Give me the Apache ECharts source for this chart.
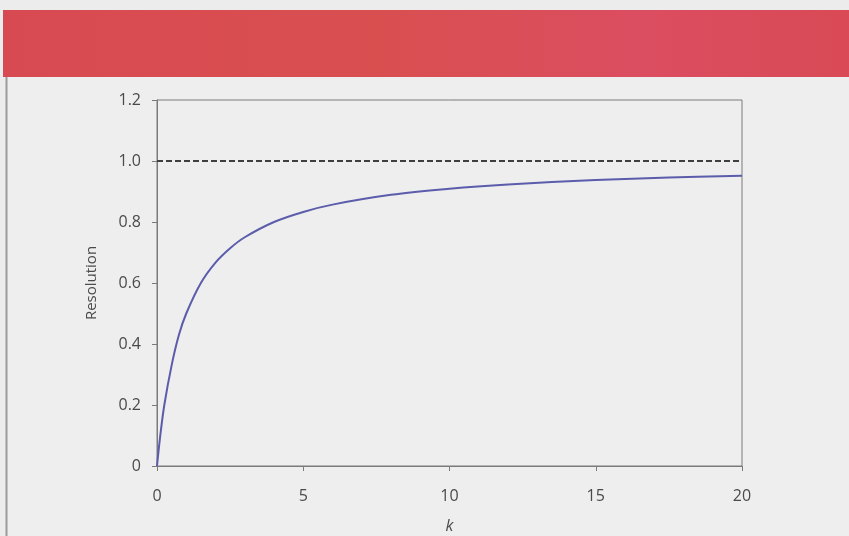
<!DOCTYPE html>
<html>
<head>
<meta charset="utf-8">
<script src="https://cdn.jsdelivr.net/npm/echarts@6/dist/echarts.min.js"></script>
<style>
  html, body { margin: 0; padding: 0; background: #ececec; }
  #chart { width: 849px; height: 536px; }
</style>
</head>
<body>
<div id="chart"></div>
<script>
// Resolution as a function of k
const kValues = [0, 0.1, 0.25, 0.5, 0.75, 1, 1.5, 2, 2.5, 3, 4, 5, 6, 8, 10, 12, 15, 17.5, 20];
const resolution = [0, 0.09, 0.2, 0.33, 0.43, 0.5, 0.6, 0.667, 0.714, 0.75, 0.8, 0.833, 0.857, 0.889, 0.909, 0.923, 0.9375, 0.946, 0.952];
const limitValue = 1.0;
const xTicks = [0, 5, 10, 15, 20];
const yTicks = [0, 0.2, 0.4, 0.6, 0.8, 1.0, 1.2];

const chart = echarts.init(document.getElementById('chart'), null, { renderer: 'canvas' });
const font = '"Open Sans", "DejaVu Sans", sans-serif';

chart.setOption({
  backgroundColor: '#ececec',
  animation: false,
  graphic: [
    {
      type: 'rect',
      shape: { x: 3, y: 10, width: 846, height: 67 },
      style: {
        fill: {
          type: 'linear', x: 0, y: 0, x2: 1, y2: 0,
          colorStops: [
            { offset: 0, color: '#d84a52' },
            { offset: 0.45, color: '#d94f50' },
            { offset: 0.75, color: '#db4d60' },
            { offset: 1, color: '#d94a56' }
          ]
        }
      },
      silent: true
    },
    {
      type: 'rect',
      shape: { x: 6, y: 77, width: 843, height: 459 },
      style: { fill: '#eeeeee' },
      silent: true,
      z: -1
    },
    {
      type: 'line',
      shape: { x1: 6.5, y1: 77, x2: 6.5, y2: 536 },
      style: { stroke: '#9a9a9a', lineWidth: 2 },
      silent: true
    }
  ],
  grid: {
    left: 157, right: 107, top: 100, bottom: 70,
    outerBoundsMode: 'none',
    containLabel: false,
    show: true, borderColor: '#7a7a7a', borderWidth: 1,
    backgroundColor: 'transparent'
  },
  xAxis: {
    type: 'value',
    min: 0, max: 20, interval: 5,
    name: 'k',
    nameLocation: 'middle',
    nameGap: 52,
    nameTextStyle: { fontFamily: font, fontSize: 16, fontStyle: 'italic', color: '#4a4a4a' },
    axisLine: { show: true, lineStyle: { color: '#7a7a7a', width: 1 } },
    axisTick: { show: true, inside: false, length: 5, lineStyle: { color: '#7a7a7a' } },
    axisLabel: {
      fontFamily: font, fontSize: 16, color: '#4a4a4a', margin: 22,
      customValues: xTicks
    },
    splitLine: { show: false }
  },
  yAxis: {
    type: 'value',
    min: 0, max: 1.2, interval: 0.2,
    name: 'Resolution',
    nameLocation: 'middle',
    nameGap: 58,
    nameRotate: 90,
    nameTextStyle: { fontFamily: font, fontSize: 15, color: '#4a4a4a' },
    axisLine: { show: true, lineStyle: { color: '#7a7a7a', width: 1 } },
    axisTick: { show: true, inside: false, length: 5, lineStyle: { color: '#7a7a7a' } },
    axisLabel: {
      fontFamily: font, fontSize: 16, color: '#4a4a4a', margin: 16,
      customValues: yTicks,
      formatter: v => (v === 0 ? '0' : v.toFixed(1))
    },
    splitLine: { show: false }
  },
  series: [
    {
      type: 'line',
      data: [[0, limitValue], [20, limitValue]],
      symbol: 'none',
      lineStyle: { color: '#3f3f3f', width: 2, type: [6, 3] },
      z: 2
    },
    {
      type: 'line',
      data: kValues.map((k, i) => [k, resolution[i]]),
      smooth: 0.35,
      symbol: 'none',
      lineStyle: { color: '#5b5cab', width: 2 },
      z: 3
    }
  ]
});
</script>
</body>
</html>
